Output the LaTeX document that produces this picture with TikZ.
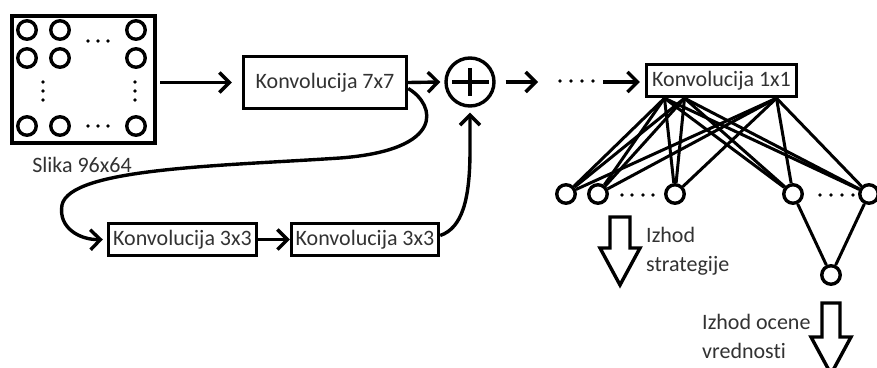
\documentclass[tikz,border=0pt]{standalone}
\usepackage{fontspec}
\setmainfont{Carlito}[Ligatures=NoCommon]
\usetikzlibrary{arrows.meta}
\definecolor{txt}{RGB}{50,50,50}
\begin{document}
\begin{tikzpicture}[x=1pt,y=-1pt,
  conv/.style={draw, line width=3.4pt, inner sep=0pt, text=txt, font=\fontsize{22}{26}\selectfont},
  neuron/.style={draw, circle, line width=3.4pt, minimum size=18.5pt, inner sep=0pt},
  arr/.style={line width=3.4pt, -{Straight Barb[length=10pt,width=20pt]}},
  fan/.style={line width=3pt},
  lbl/.style={text=txt, font=\fontsize{22}{29}\selectfont, inner sep=0pt},
  hollow/.style={draw, line width=3.4pt, line join=miter},
  dotf/.style={fill=black}
]
\useasboundingbox (0,0) rectangle (877,367);
% input image
\node[draw, line width=3.8pt, minimum width=143.5pt, minimum height=127.5pt, inner sep=0pt] (img) at (83.5,79.5) {};
\foreach \x/\c in {27/1,60/2,136/3}
  \foreach \y/\r in {30/1,58/2,126/3}
    \node[neuron] (i\r\c) at (\x,\y) {};
\foreach \x in {88,98,108} {
  \fill[dotf] (\x,41) circle[radius=1.8];
  \fill[dotf] (\x,126) circle[radius=1.8];
}
\foreach \y in {82,91,100} {
  \fill[dotf] (43,\y) circle[radius=1.8];
  \fill[dotf] (135,\y) circle[radius=1.8];
}
\node[lbl, anchor=base] (slika) at (82,172) {Slika 96x64};
% main path
\node[conv, minimum width=163pt, minimum height=52pt] (k7) at (325,82.5) {Konvolucija 7x7};
\node[draw, circle, line width=3.4pt, minimum size=48pt, inner sep=0pt] (plus) at (470,82) {};
\draw[line width=3.4pt] ([xshift=-18pt]plus.center) -- ([xshift=19pt]plus.center)
                      ([yshift=14pt]plus.center) -- ([yshift=-14pt]plus.center);
\node[conv, minimum width=148pt, minimum height=32pt] (k3a) at (182.5,239.5) {Konvolucija 3x3};
\node[conv, minimum width=147pt, minimum height=32pt] (k3b) at (365,239.5) {Konvolucija 3x3};
\node[conv, minimum width=150pt, minimum height=32pt] (k1) at (721.5,80.5) {Konvolucija 1x1};
\draw[arr] ([xshift=3pt]img.east |- k7.west) -- ([xshift=-10pt]k7.west);
\draw[arr] (k7.east) -- ([xshift=-4pt]plus.west);
\coordinate (d1) at (538,82);
\draw[arr] ([xshift=10pt]plus.east) -- (d1);
\foreach \x in {560,571,582,593} \fill[dotf] (\x,81) circle[radius=1.8];
\coordinate (d2) at (603,82);
\draw[arr] (d2) -- ([xshift=-5pt]k1.west |- d2);
% skip branch
\draw[arr] ([yshift=-6pt]k7.east) .. controls (436,105) and (446,150) .. (340,158)
   .. controls (220,166) and (70,168) .. (62,205)
   .. controls (58,228) and (80,240) .. ([xshift=-4pt]k3a.west);
\draw[arr] (k3a.east) -- (k3b.west);
\draw[arr] ([yshift=4pt]k3b.east) .. controls (462,228) and (470,200) .. (470,150) -- ([yshift=-5pt]plus.south);
% heads
\node[neuron] (c1) at (566,194) {};
\node[neuron] (c2) at (598,194) {};
\node[neuron] (c3) at (675,194) {};
\node[neuron] (c4) at (793,194) {};
\node[neuron] (c5) at (869,194) {};
\node[neuron] (v) at (831,275) {};
\foreach \x in {622,632,643,653} \fill[dotf] (\x,195) circle[radius=1.8];
\foreach \x in {820,831,842,853} \fill[dotf] (\x,195) circle[radius=1.8];
\coordinate (s1) at ([xshift=-57pt]k1.south);
\coordinate (s2) at ([xshift=-37pt]k1.south);
\coordinate (s3) at ([xshift=55pt]k1.south);
\foreach \s in {s1,s2,s3}
  \foreach \c in {c1,c2,c3,c4,c5}
    \draw[fan] (\s) -- (\c);
\draw[fan] (c4) -- (v);
\draw[fan] (c5) -- (v);
% output arrows
\draw[hollow] (610,217) -- (630,217) -- (630,248) -- (640,248) -- (620,285) -- (600,248) -- (610,248) -- cycle;
\draw[hollow] (822,303) -- (840,303) -- (840,337) -- (851,337) -- (831,374) -- (811,337) -- (822,337) -- cycle;
\node[lbl, anchor=base west, align=left] (izs) at (646,271) {Izhod\\strategije};
\node[lbl, anchor=base west, align=left] (izv) at (702,358) {Izhod ocene\\vrednosti};
\end{tikzpicture}
\end{document}
